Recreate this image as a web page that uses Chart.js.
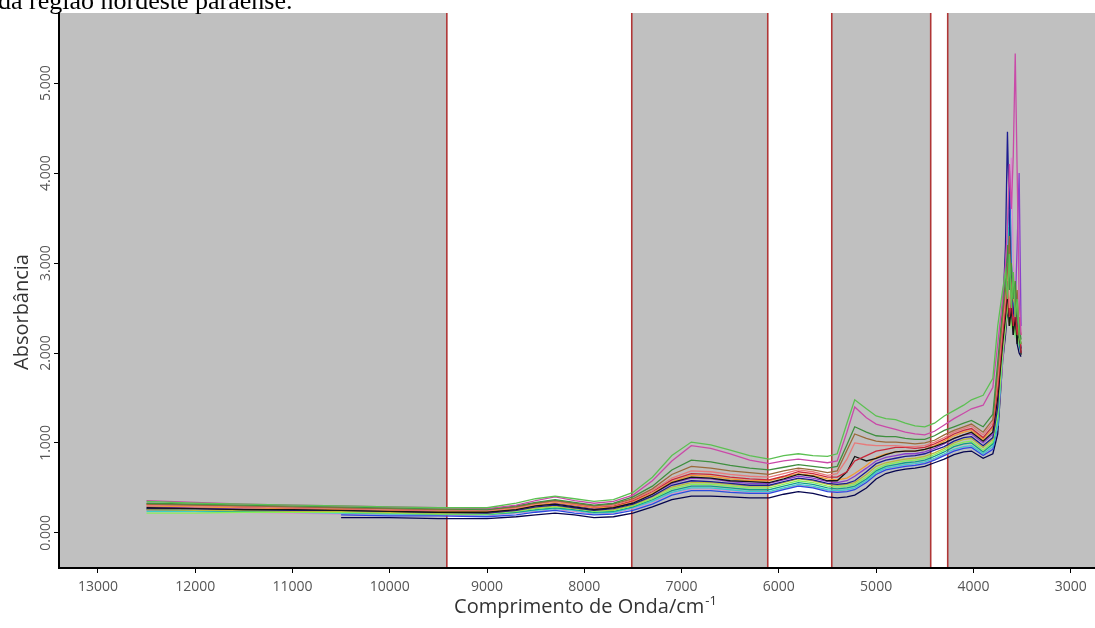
<!DOCTYPE html>
<html>
<head>
<meta charset="utf-8">
<script src="https://cdn.jsdelivr.net/npm/chart.js@4"></script>
<style>
body{margin:0;background:#fff;}
#wrap{position:relative;width:1095px;height:628px;}
#cap{position:absolute;left:-2px;top:-12px;font:26px 'Liberation Serif','Times New Roman',serif;line-height:26px;color:#000;white-space:nowrap;z-index:2;}
</style>
</head>
<body>
<div id="wrap"><div id="cap">da região nordeste paraense.</div><canvas id="c"></canvas></div>
<script>
// numero de onda (cm-1)
var waveNumbers = [12500, 12000, 11500, 11000, 10500, 10000, 9500, 9000, 8700, 8500, 8300, 8100, 7900, 7700,
  7500, 7300, 7100, 6900, 6700, 6500, 6300, 6100,
  5950, 5800, 5650, 5500, 5400, 5300, 5220, 5100, 5000, 4900, 4800, 4700, 4600, 4500, 4400, 4300, 4200, 4100, 4020, 3900, 3800,
  3750, 3700, 3670, 3650, 3630, 3610, 3590, 3570, 3550, 3530, 3510];

// marcas dos eixos
var xTicks = [13000, 12000, 11000, 10000, 9000, 8000, 7000, 6000, 5000, 4000, 3000];
var yTicks = [0, 1, 2, 3, 4, 5];

// espectros (absorbancia)
var s01 = [0.35,0.33,0.32,0.31,0.30,0.29,0.28,0.28,0.33,0.38,0.41,0.38,0.35,0.37,
  0.45,0.62,0.86,1.01,0.98,0.92,0.86,0.82,
  0.86,0.88,0.86,0.85,0.88,1.22,1.48,1.38,1.30,1.27,1.26,1.22,1.19,1.18,1.22,1.30,1.36,1.42,1.48,1.53,1.72,
  2.30,2.70,2.90,2.60,3.10,2.50,2.90,2.40,2.60,2.20,2.10];
var s02 = [0.36,0.34,0.32,0.31,0.30,0.29,0.28,0.27,0.31,0.36,0.40,0.36,0.33,0.35,
  0.42,0.58,0.80,0.97,0.94,0.88,0.81,0.77,
  0.80,0.82,0.80,0.78,0.80,1.12,1.40,1.28,1.21,1.18,1.15,1.12,1.10,1.09,1.13,1.20,1.27,1.33,1.38,1.42,1.62,
  2.10,2.60,3.00,3.40,4.10,3.60,4.20,5.33,4.00,2.60,2.20];
var s03 = [0.33,0.32,0.31,0.30,0.29,0.28,0.27,0.26,0.30,0.34,0.37,0.34,0.31,0.33,
  0.40,0.52,0.70,0.81,0.79,0.75,0.72,0.70,
  0.73,0.76,0.74,0.72,0.74,0.98,1.18,1.12,1.08,1.07,1.07,1.05,1.04,1.04,1.08,1.14,1.18,1.22,1.25,1.18,1.32,
  1.90,2.50,2.80,3.20,2.70,3.00,2.60,2.80,2.40,2.30,2.15];
var s04 = [0.32,0.31,0.30,0.29,0.28,0.27,0.26,0.26,0.29,0.33,0.36,0.33,0.30,0.32,
  0.38,0.49,0.65,0.74,0.72,0.69,0.67,0.65,
  0.69,0.72,0.70,0.67,0.69,0.92,1.10,1.05,1.02,1.01,1.01,1.00,0.99,1.00,1.03,1.09,1.14,1.18,1.21,1.12,1.26,
  1.80,2.40,2.70,2.90,3.30,2.60,2.80,2.50,2.70,2.20,2.10];
var s05 = [0.31,0.30,0.29,0.28,0.27,0.26,0.25,0.25,0.28,0.32,0.35,0.32,0.29,0.31,
  0.37,0.47,0.61,0.69,0.68,0.65,0.63,0.62,
  0.66,0.70,0.68,0.64,0.66,0.82,1.00,0.98,0.97,0.97,0.97,0.96,0.96,0.97,1.01,1.06,1.12,1.16,1.19,1.09,1.23,
  1.70,2.30,2.60,3.00,2.50,2.70,2.90,2.40,2.60,2.30,2.20];
var s06 = [0.32,0.31,0.29,0.28,0.27,0.26,0.25,0.25,0.29,0.33,0.36,0.32,0.29,0.30,
  0.36,0.46,0.59,0.66,0.65,0.62,0.60,0.59,
  0.63,0.68,0.66,0.62,0.62,0.68,0.80,0.86,0.91,0.93,0.95,0.95,0.94,0.95,0.99,1.04,1.10,1.14,1.16,1.06,1.19,
  1.60,2.20,2.50,2.80,2.40,2.60,2.30,2.50,2.20,2.40,2.00];
var s07 = [0.28,0.27,0.26,0.26,0.25,0.24,0.23,0.23,0.26,0.30,0.32,0.29,0.26,0.28,
  0.33,0.43,0.56,0.62,0.61,0.58,0.57,0.56,
  0.60,0.65,0.63,0.58,0.58,0.68,0.85,0.80,0.83,0.87,0.90,0.91,0.91,0.93,0.96,1.00,1.05,1.09,1.12,1.02,1.12,
  1.50,2.10,2.40,2.70,2.30,2.50,2.20,2.40,2.10,2.30,1.98];
var s08 = [0.30,0.29,0.28,0.27,0.26,0.25,0.24,0.24,0.27,0.31,0.34,0.31,0.28,0.29,
  0.35,0.44,0.57,0.64,0.63,0.60,0.58,0.58,
  0.62,0.66,0.64,0.60,0.59,0.61,0.66,0.75,0.84,0.88,0.90,0.91,0.91,0.93,0.97,1.02,1.08,1.12,1.14,1.04,1.16,
  1.60,2.30,2.60,2.80,3.00,2.70,2.60,2.80,2.50,2.30,2.20];
var s09 = [0.29,0.28,0.27,0.27,0.26,0.25,0.24,0.23,0.26,0.30,0.33,0.30,0.27,0.28,
  0.34,0.43,0.55,0.61,0.60,0.57,0.55,0.55,
  0.59,0.63,0.61,0.57,0.56,0.58,0.63,0.72,0.80,0.84,0.86,0.88,0.88,0.90,0.94,0.99,1.05,1.09,1.10,1.00,1.10,
  1.50,2.20,2.50,2.70,2.40,2.60,2.30,2.50,3.20,4.00,2.30];
var s10 = [0.27,0.27,0.26,0.25,0.25,0.24,0.23,0.22,0.25,0.29,0.31,0.28,0.25,0.27,
  0.32,0.41,0.53,0.58,0.57,0.55,0.53,0.53,
  0.57,0.61,0.59,0.55,0.54,0.55,0.58,0.68,0.77,0.81,0.83,0.85,0.86,0.88,0.92,0.96,1.02,1.06,1.07,0.97,1.06,
  1.40,2.40,3.20,4.46,3.50,2.80,2.40,2.60,2.30,2.20,2.05];
var s11 = [0.26,0.25,0.25,0.24,0.24,0.23,0.22,0.22,0.25,0.28,0.30,0.27,0.25,0.26,
  0.31,0.40,0.51,0.56,0.56,0.54,0.52,0.52,
  0.56,0.60,0.58,0.54,0.53,0.54,0.56,0.65,0.74,0.78,0.80,0.82,0.83,0.85,0.89,0.94,1.00,1.04,1.05,0.95,1.04,
  1.40,2.10,2.40,2.60,2.30,2.70,2.40,2.30,2.50,2.20,2.10];
var s12 = [0.22,0.22,0.23,0.23,0.23,0.22,0.21,0.21,0.24,0.27,0.29,0.27,0.24,0.25,
  0.30,0.38,0.49,0.54,0.54,0.52,0.50,0.50,
  0.54,0.58,0.56,0.52,0.51,0.52,0.54,0.62,0.71,0.76,0.78,0.80,0.81,0.83,0.87,0.92,0.98,1.01,1.02,0.92,1.01,
  1.30,2.00,2.30,2.50,2.60,2.30,2.40,2.20,2.30,2.10,2.15];
var s13 = [0.26,0.25,0.24,0.24,0.23,0.22,0.21,0.21,0.23,0.26,0.28,0.26,0.23,0.24,
  0.29,0.37,0.47,0.52,0.52,0.50,0.48,0.48,
  0.52,0.56,0.54,0.50,0.49,0.50,0.52,0.60,0.69,0.74,0.76,0.78,0.79,0.81,0.85,0.90,0.96,0.99,1.00,0.90,0.99,
  1.30,2.10,2.50,2.80,3.40,2.70,2.50,2.30,2.40,2.10,2.00];
var s14 = [0.24,0.24,0.23,0.23,0.22,0.21,0.21,0.20,0.23,0.25,0.27,0.25,0.22,0.23,
  0.28,0.35,0.45,0.50,0.50,0.48,0.46,0.46,
  0.50,0.54,0.52,0.48,0.47,0.48,0.50,0.58,0.67,0.72,0.74,0.76,0.77,0.79,0.83,0.88,0.93,0.96,0.97,0.88,0.96,
  1.20,2.00,2.60,3.00,3.60,2.90,2.40,2.20,2.30,2.10,2.05];
var s15 = [null,null,null,null,0.20,0.19,0.19,0.18,0.20,0.23,0.25,0.22,0.20,0.21,
  0.25,0.32,0.42,0.47,0.47,0.45,0.44,0.44,
  0.48,0.52,0.50,0.46,0.45,0.46,0.48,0.56,0.65,0.70,0.72,0.74,0.75,0.77,0.81,0.86,0.91,0.94,0.95,0.86,0.93,
  1.20,2.00,2.40,2.70,4.03,3.00,2.50,2.30,2.40,2.10,2.00];
var s16 = [0.25,0.24,0.23,0.22,0.21,0.20,0.20,0.19,0.22,0.24,0.26,0.24,0.21,0.22,
  0.27,0.34,0.44,0.49,0.49,0.47,0.45,0.45,
  0.49,0.53,0.51,0.47,0.46,0.47,0.49,0.57,0.66,0.71,0.73,0.75,0.76,0.78,0.82,0.87,0.92,0.95,0.96,0.87,0.95,
  1.20,1.90,2.30,2.60,2.90,4.17,3.00,2.60,2.40,2.20,2.10];
var s17 = [null,null,null,null,0.17,0.17,0.16,0.16,0.18,0.20,0.22,0.20,0.17,0.18,
  0.22,0.29,0.37,0.41,0.41,0.40,0.39,0.39,
  0.43,0.46,0.44,0.40,0.39,0.40,0.42,0.50,0.60,0.66,0.69,0.71,0.72,0.74,0.78,0.82,0.87,0.90,0.91,0.83,0.88,
  1.10,1.90,2.20,2.50,2.30,2.60,2.20,2.40,2.10,2.00,1.96];

var spectra = [s01, s02, s03, s04, s05, s06, s07, s08, s09, s10, s11, s12, s13, s14, s15, s16, s17];
var spectraColors = ['#5cc052', '#c94aa8', '#3f8f3f', '#9a6a3a', '#e87a7a', '#c8283a', '#141414', '#f29a35',
  '#8a3fcc', '#1c1c90', '#b9b93a', '#86ee5a', '#139a8a', '#3ccccc', '#2a4ae0', '#d98ad0', '#05054f'];

// regioes do espectro (cinza) e limites (vermelho)
var grayBands = [[13400, 9413], [7512, 6114], [5456, 4439], [4264, 2750]];
var redLines = [9413, 7512, 6114, 5456, 4439, 4264];

var bandsPlugin = {
  id: 'bands',
  beforeDraw: function(chart) {
    var ctx = chart.ctx, a = chart.chartArea, x = chart.scales.x;
    ctx.save();
    ctx.fillStyle = '#c0c0c0';
    grayBands.forEach(function(b) {
      var x1 = x.getPixelForValue(b[0]), x2 = x.getPixelForValue(b[1]);
      ctx.fillRect(Math.min(x1, x2), a.top, Math.abs(x2 - x1), a.bottom - a.top);
    });
    ctx.strokeStyle = '#b03636';
    ctx.lineWidth = 1.6;
    redLines.forEach(function(v) {
      var px = x.getPixelForValue(v);
      ctx.beginPath();
      ctx.moveTo(px, a.top);
      ctx.lineTo(px, a.bottom);
      ctx.stroke();
    });
    ctx.restore();
  },
  afterDraw: function(chart) {
    var ctx = chart.ctx, y = chart.scales.y;
    ctx.save();
    // rotulos do eixo y (verticais)
    ctx.fillStyle = '#555';
    ctx.font = '14px "Open Sans"';
    ctx.textAlign = 'center';
    ctx.textBaseline = 'middle';
    y.ticks.forEach(function(t) {
      var py = y.getPixelForValue(t.value);
      ctx.save();
      ctx.translate(46, py);
      ctx.rotate(-Math.PI / 2);
      ctx.fillText(t.value.toFixed(3), 0, 0);
      ctx.restore();
    });
    // titulo eixo y
    ctx.fillStyle = '#333';
    ctx.font = '20px "Open Sans"';
    ctx.save();
    ctx.translate(22, 312);
    ctx.rotate(-Math.PI / 2);
    ctx.fillText('Absorbância', 0, 0);
    ctx.restore();
    // titulo eixo x com expoente
    var main = 'Comprimento de Onda/cm', sup = '-1';
    ctx.font = '20px "Open Sans"';
    var w1 = ctx.measureText(main).width;
    ctx.font = '13px "Open Sans"';
    var w2 = ctx.measureText(sup).width;
    var x0 = 585 - (w1 + w2) / 2;
    ctx.textAlign = 'left';
    ctx.textBaseline = 'alphabetic';
    ctx.font = '20px "Open Sans"';
    ctx.fillText(main, x0, 613);
    ctx.font = '13px "Open Sans"';
    ctx.fillText(sup, x0 + w1 + 1, 605);
    ctx.restore();
  }
};

new Chart(document.getElementById('c'), {
  type: 'line',
  data: {
    datasets: spectra.map(function(s, i) {
      return {
        data: s.map(function(v, j) { return {x: waveNumbers[j], y: v}; }),
        borderColor: spectraColors[i],
        borderWidth: 1.3,
        pointRadius: 0,
        tension: 0,
        fill: false
      };
    })
  },
  options: {
    responsive: true,
    maintainAspectRatio: false,
    animation: false,
    layout: { padding: { top: 13, right: 0, left: 0, bottom: 0 } },
    plugins: { legend: { display: false }, tooltip: { enabled: false } },
    scales: {
      x: {
        type: 'linear',
        reverse: true,
        min: 2750,
        max: 13400,
        afterBuildTicks: function(s) { s.ticks = xTicks.map(function(v) { return {value: v}; }); },
        afterFit: function(s) { s.height = 60; },
        border: { color: '#000', width: 2 },
        grid: { drawOnChartArea: false, drawTicks: true, tickLength: 5, color: '#000' },
        ticks: {
          color: '#555',
          font: { family: 'Open Sans', size: 14 },
          padding: 6,
          maxRotation: 0,
          autoSkip: false,
          callback: function(v) { return String(v); }
        }
      },
      y: {
        type: 'linear',
        min: -0.39,
        max: 5.78,
        afterBuildTicks: function(s) { s.ticks = yTicks.map(function(v) { return {value: v}; }); },
        afterFit: function(s) { s.width = 59; },
        border: { color: '#000', width: 2 },
        grid: { drawOnChartArea: false, drawTicks: true, tickLength: 5, color: '#000' },
        ticks: { display: false }
      }
    }
  },
  plugins: [bandsPlugin]
});
</script>
</body>
</html>
